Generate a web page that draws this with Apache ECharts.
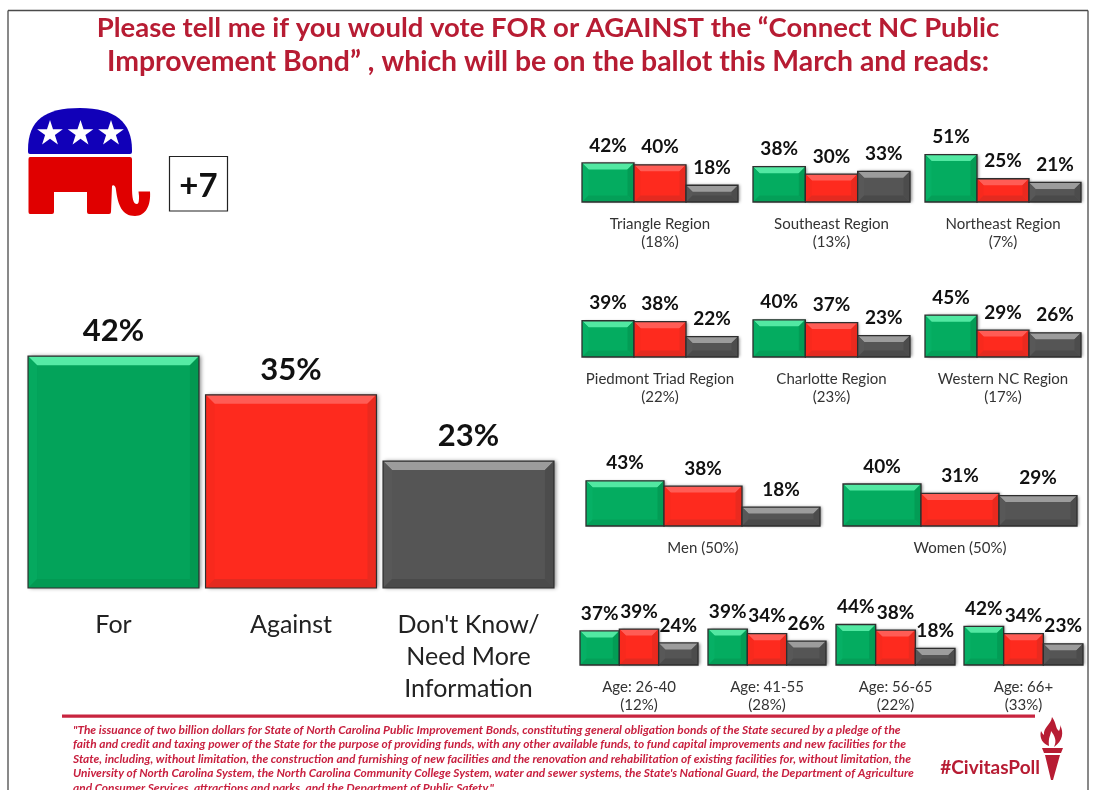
<!DOCTYPE html>
<html>
<head>
<meta charset="utf-8">
<title>Connect NC Public Improvement Bond</title>
<script src="https://cdn.jsdelivr.net/npm/echarts@6/dist/echarts.min.js"></script>
<style>html,body{margin:0;padding:0;background:#fff;overflow:hidden}#chart{width:1096px;height:790px}</style>
</head>
<body>
<div id="chart"></div>
<script>
// Response options and poll results, in percent
const answers = ['For', 'Against', "Don't Know/\nNeed More\nInformation"];
const overall = [42, 35, 23];
const triangle = [42, 40, 18];
const southeast = [38, 30, 33];
const northeast = [51, 25, 21];
const piedmont = [39, 38, 22];
const charlotte = [40, 37, 23];
const westernNC = [45, 29, 26];
const men = [43, 38, 18];
const women = [40, 31, 29];
const age26to40 = [37, 39, 24];
const age41to55 = [39, 34, 26];
const age56to65 = [44, 38, 18];
const age66plus = [42, 34, 23];

const titleLines = [
  'Please tell me if you would vote FOR or AGAINST the \u201cConnect NC Public',
  'Improvement Bond\u201d , which will be on the ballot this March and reads:'
];
const ballotLines = [
  '"The issuance of two billion dollars for State of North Carolina Public Improvement Bonds, constituting general obligation bonds of the State secured by a pledge of the',
  'faith and credit and taxing power of the State for the purpose of providing funds, with any other available funds, to fund capital improvements and new facilities for the',
  'State, including, without limitation, the construction and furnishing of new facilities and the renovation and rehabilitation of existing facilities for, without limitation, the',
  "University of North Carolina System, the North Carolina Community College System, water and sewer systems, the State's National Guard, the Department of Agriculture",
  'and Consumer Services, attractions and parks, and the Department of Public Safety."'
];

const FONT = 'Lato, "Open Sans", sans-serif';
const CRIMSON = '#B71C33';

// Face tones of each bevelled bar: front, top, left, right, bottom
const tones = [
  { front: '#04AC60', top: '#52E8A2', left: '#06B065', right: '#039C55', bottom: '#049F58' },
  { front: '#FE2A1E', top: '#FF5C55', left: '#F8291D', right: '#EA2A1F', bottom: '#E42A20' },
  { front: '#555555', top: '#9C9C9C', left: '#585858', right: '#4C4C4C', bottom: '#4A4A4A' }
];
const largeTones = [
  { front: '#03A35A', top: '#55EBA5', left: '#05A95F', right: '#029851', bottom: '#029A53' },
  tones[1],
  tones[2]
];

// Panel placement: baseline is the pixel row of zero, pxPerPoint the vertical scale
const panels = [
  { values: triangle, caption: 'Triangle Region\n(18%)', left: 582, width: 156, baseline: 202, pxPerPoint: 0.93 },
  { values: southeast, caption: 'Southeast Region\n(13%)', left: 753, width: 157, baseline: 202, pxPerPoint: 0.93 },
  { values: northeast, caption: 'Northeast Region\n(7%)', left: 925, width: 156, baseline: 202, pxPerPoint: 0.93 },
  { values: piedmont, caption: 'Piedmont Triad Region\n(22%)', left: 582, width: 156, baseline: 357, pxPerPoint: 0.93 },
  { values: charlotte, caption: 'Charlotte Region\n(23%)', left: 753, width: 157, baseline: 357, pxPerPoint: 0.93 },
  { values: westernNC, caption: 'Western NC Region\n(17%)', left: 925, width: 156, baseline: 357, pxPerPoint: 0.93 },
  { values: men, caption: 'Men (50%)', left: 586, width: 234, baseline: 526, pxPerPoint: 1.05 },
  { values: women, caption: 'Women (50%)', left: 843, width: 234, baseline: 526, pxPerPoint: 1.05 },
  { values: age26to40, caption: 'Age: 26-40\n(12%)', left: 580, width: 118, baseline: 665, pxPerPoint: 0.92 },
  { values: age41to55, caption: 'Age: 41-55\n(28%)', left: 708, width: 118, baseline: 665, pxPerPoint: 0.92 },
  { values: age56to65, caption: 'Age: 56-65\n(22%)', left: 836, width: 119, baseline: 665, pxPerPoint: 0.92 },
  { values: age66plus, caption: 'Age: 66+\n(33%)', left: 964, width: 119, baseline: 665, pxPerPoint: 0.92 }
];
const AXIS_MAX = 60;

function face(points, fill) {
  return { type: 'polygon', shape: { points: points }, style: { fill: fill } };
}

// Draws one bar with bevelled faces plus its value above it
function bevelBar(opts) {
  return function (params, api) {
    const idx = api.value(0), val = api.value(1);
    const top = api.coord([idx, val]);
    const base = api.coord([idx, 0]);
    const w = api.size([1, 0])[0] * opts.fill;
    const x0 = top[0] - w / 2, x1 = top[0] + w / 2, y0 = top[1], y1 = base[1];
    const b = opts.bevel, c = opts.palette[idx];
    return {
      type: 'group',
      children: [
        { type: 'rect', shape: { x: x0, y: y0, width: w, height: y1 - y0 },
          style: { fill: c.front, shadowBlur: opts.shadow, shadowOffsetX: opts.shadow / 2, shadowOffsetY: 0, shadowColor: 'rgba(0,0,0,0.45)' } },
        face([[x0, y0], [x1, y0], [x1 - b, y0 + b], [x0 + b, y0 + b]], c.top),
        face([[x0, y0], [x0 + b, y0 + b], [x0 + b, y1 - b], [x0, y1]], c.left),
        face([[x1, y0], [x1 - b, y0 + b], [x1 - b, y1 - b], [x1, y1]], c.right),
        face([[x0, y1], [x0 + b, y1 - b], [x1 - b, y1 - b], [x1, y1]], c.bottom),
        { type: 'rect', shape: { x: x0, y: y0, width: w, height: y1 - y0 },
          style: { fill: null, stroke: '#2E2E2E', lineWidth: opts.stroke } },
        { type: 'text', style: {
            text: val + '%', x: top[0], y: y0 - opts.labelGap, align: 'center', verticalAlign: 'middle',
            fontFamily: FONT, fontWeight: 'bold', fontSize: opts.labelSize, fill: '#111111' } }
      ]
    };
  };
}

const grids = [{ left: 24.75, width: 532.5, top: 588 - AXIS_MAX * 5.52, height: AXIS_MAX * 5.52 }];
const xAxes = [{
  type: 'category', gridIndex: 0, data: answers,
  axisLine: { show: false }, axisTick: { show: false },
  axisLabel: { interval: 0, margin: 21, fontFamily: FONT, fontSize: 25, lineHeight: 32, color: '#222222' }
}];
const yAxes = [{ type: 'value', gridIndex: 0, min: 0, max: AXIS_MAX, show: false }];
const seriesList = [{
  type: 'custom', xAxisIndex: 0, yAxisIndex: 0, silent: true,
  encode: { x: 0, y: 1 },
  data: overall.map((v, i) => [i, v]),
  renderItem: bevelBar({ palette: largeTones, fill: 0.963, bevel: 9, stroke: 1.2, shadow: 4, labelGap: 25, labelSize: 31 })
}];

panels.forEach((p, n) => {
  const k = n + 1;
  const h = AXIS_MAX * p.pxPerPoint;
  grids.push({ left: p.left, width: p.width, top: p.baseline - h, height: h });
  xAxes.push({
    type: 'category', gridIndex: k, data: ['For', 'Against', "Don't Know"],
    axisLine: { show: false }, axisTick: { show: false }, axisLabel: { show: false },
    name: p.caption, nameLocation: 'middle', nameGap: 13,
    nameTextStyle: { fontFamily: FONT, fontSize: 15, lineHeight: 18, color: '#333333', verticalAlign: 'top' }
  });
  yAxes.push({ type: 'value', gridIndex: k, min: 0, max: AXIS_MAX, show: false });
  seriesList.push({
    type: 'custom', xAxisIndex: k, yAxisIndex: k, silent: true,
    encode: { x: 0, y: 1 },
    data: p.values.map((v, i) => [i, v]),
    renderItem: bevelBar({ palette: tones, fill: 1, bevel: 6.5, stroke: 1.3, shadow: 3, labelGap: 17.5, labelSize: 19 })
  });
});

// Emblem outlines for the party elephant and the torch
echarts.graphic.registerShape('elephantBody', echarts.graphic.extendPath(
  'M30 157 L130 157 Q132 157 132 159 L132 186 C132 198 133 204 137 204 C139 204 139 200 139 196 L138.5 191.5 L150 191.5 C151 205 146 216 135 216 C122 216 118 205 116 190 C116 186 113 184 112 186 L111 212 Q111 214 109 214 L89 214 Q87 214 87 212 L87 192 L54 192 L54 212 Q54 214 52 214 L30 214 Q28.5 214 28.5 212 L28.5 159 Q28.5 157 30 157 Z'));
echarts.graphic.registerShape('elephantBack', echarts.graphic.extendPath(
  'M28 150 C28 120 45 108 80 108 C115 108 132 122 132 150 L132 152 Q132 154 130 154 L30 154 Q28 154 28 152 Z'));
echarts.graphic.registerShape('torchFlame', echarts.graphic.extendPath(
  'M1052 717 C1057 724 1055 728 1059 731 C1061 727 1060 726 1060 725 C1064 732 1063 741 1054 747 C1057 741 1055 736 1051 731 C1051 735 1048 737 1049 746 C1043 744 1039 738 1041 731 C1042 733 1043 734 1044 735 C1043 727 1051 725 1052 717 Z'));
echarts.graphic.registerShape('torchCup', echarts.graphic.extendPath(
  'M1042 748 L1063 748 L1061 753 L1044 753 Z M1045 755 L1060 755 L1053 780 L1051 780 Z'));

function starPoints(cx, cy, r) {
  const pts = [];
  for (let i = 0; i < 10; i++) {
    const rad = i % 2 ? r * 0.38 : r;
    const a = -Math.PI / 2 + i * Math.PI / 5;
    pts.push([cx + rad * Math.cos(a), cy + rad * Math.sin(a)]);
  }
  return pts;
}

const frameStyle = { stroke: '#4A4A4A', lineWidth: 1.3 };
const graphics = [
  { type: 'line', shape: { x1: 8, y1: 10.5, x2: 1088, y2: 10.5 }, style: frameStyle },
  { type: 'line', shape: { x1: 8, y1: 10.5, x2: 8, y2: 790 }, style: frameStyle },
  { type: 'line', shape: { x1: 1088, y1: 10.5, x2: 1088, y2: 790 }, style: frameStyle },
  { type: 'elephantBack', shape: {}, style: { fill: '#1100B8' } },
  { type: 'elephantBody', shape: {}, style: { fill: '#E00000' } },
  { type: 'polygon', shape: { points: starPoints(50, 133.5, 13.5) }, style: { fill: '#FFFFFF' } },
  { type: 'polygon', shape: { points: starPoints(80.5, 133.5, 13.5) }, style: { fill: '#FFFFFF' } },
  { type: 'polygon', shape: { points: starPoints(111, 133.5, 13.5) }, style: { fill: '#FFFFFF' } },
  { type: 'rect', shape: { x: 169.5, y: 156.5, width: 58, height: 54.5 },
    style: { fill: '#FFFFFF', stroke: '#222222', lineWidth: 1.2 } },
  { type: 'text', style: { text: '+7', x: 198.5, y: 186, align: 'center', verticalAlign: 'middle',
      fontFamily: FONT, fontWeight: 'bold', fontSize: 33, fill: '#111111' } },
  { type: 'rect', shape: { x: 62, y: 714.5, width: 973, height: 3.2 }, style: { fill: '#C8243F' } },
  { type: 'text', style: { text: '#CivitasPoll', x: 1040, y: 768, align: 'right', verticalAlign: 'middle',
      fontFamily: FONT, fontWeight: 'bold', fontSize: 19, fill: CRIMSON } },
  { type: 'torchFlame', shape: {}, style: { fill: CRIMSON } },
  { type: 'torchCup', shape: {}, style: { fill: CRIMSON } }
];
ballotLines.forEach((line, i) => {
  graphics.push({ type: 'text', style: {
    text: line, x: 73, y: 730 + i * 14.5, align: 'left', verticalAlign: 'middle',
    fontFamily: FONT, fontStyle: 'italic', fontWeight: 'bold', fontSize: 11.9, fill: '#C8203F' } });
});

const chart = echarts.init(document.getElementById('chart'), null, { renderer: 'canvas' });
chart.setOption({
  animation: false,
  backgroundColor: '#FFFFFF',
  title: [
    { text: titleLines[0], left: 543, top: 6, textAlign: 'center',
      textStyle: { fontFamily: FONT, fontWeight: 'bold', fontSize: 27.5, lineHeight: 34, color: CRIMSON } },
    { text: titleLines[1], left: 543, top: 40, textAlign: 'center',
      textStyle: { fontFamily: FONT, fontWeight: 'bold', fontSize: 28.4, lineHeight: 34, color: CRIMSON } }
  ],
  grid: grids,
  xAxis: xAxes,
  yAxis: yAxes,
  series: seriesList,
  graphic: { elements: graphics }
});
</script>
</body>
</html>
